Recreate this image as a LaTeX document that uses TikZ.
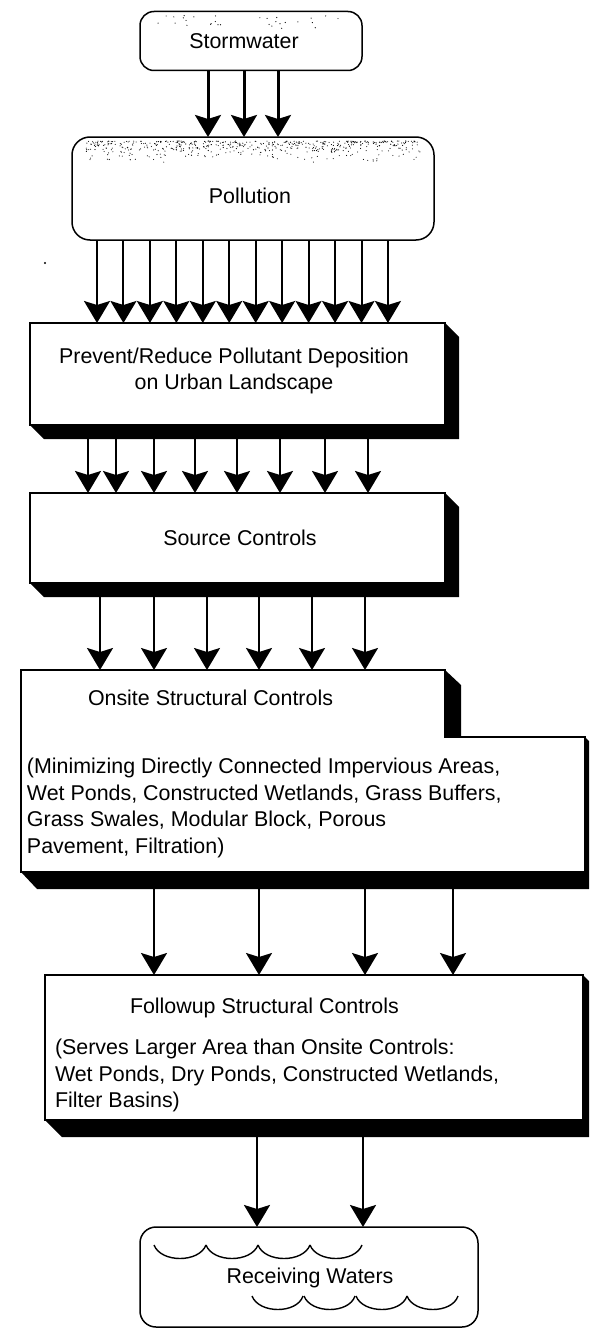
\documentclass[tikz,border=0pt]{standalone}
\usepackage{fontspec}
\setmainfont{Liberation Sans}
\usetikzlibrary{arrows.meta,calc}
\begin{document}
\begin{tikzpicture}[x=1pt,y=-1pt,
  every node/.style={inner sep=0pt,outer sep=0pt},
  txt/.style={font=\fontsize{21.4}{26.5}\selectfont},
  para/.style={txt,align=left,anchor=north west},
  rbox/.style={draw,line width=1.5pt,fill=white,rectangle},
  sbox/.style={draw,line width=1.5pt,fill=white,rectangle},
  arr/.style={line width=2pt,-{Stealth[length=22pt,width=26pt,inset=4pt]}},
  thickarr/.style={arr,line width=3pt},
  wave/.style={line width=1.4pt}
]
\useasboundingbox (0,0) rectangle (589,1330);
\clip (0,0) rectangle (589,1330);

\newcommand{\boxshadow}[2]{%
  \fill[black] (#1.north east) -- ++(#2,#2) -- ($(#1.south east)+(#2,#2)$)
    -- ($(#1.south west)+(#2,#2)$) -- (#1.south west) -- (#1.south east) -- cycle;}

% Stormwater
\node[rbox,rounded corners=14pt,minimum width=222pt,minimum height=59pt] (storm) at (251,41) {};
\node[txt] (stormtxt) at (244,41) {Stormwater};
\pgfmathsetseed{11}
\foreach \i in {1,...,30}{
  \pgfmathsetmacro{\xx}{150+200*rnd}
  \pgfmathsetmacro{\yy}{15+14*rnd}
  \fill (\xx,\yy) circle (0.6);
}

% Pollution
\node[rbox,rounded corners=18pt,minimum width=362pt,minimum height=103pt] (poll) at (253,188.5) {};
\node[txt] (polltxt) at (250,196) {Pollution};
\pgfmathsetseed{5}
\foreach \i in {1,...,520}{
  \pgfmathsetmacro{\xx}{86+334*rnd}
  \pgfmathsetmacro{\yy}{141+22*rnd*rnd}
  \fill (\xx,\yy) circle (0.55);
}
\fill (45,263) circle (1.2);

% Prevent
\node[sbox,minimum width=415pt,minimum height=102pt] (prev) at (237.5,374) {};
\boxshadow{prev}{14}
\node[txt,align=center] (prevtxt) at (234,371) {Prevent/Reduce Pollutant Deposition\\on Urban Landscape};

% Source
\node[sbox,minimum width=415pt,minimum height=90pt] (src) at (237.5,538) {};
\boxshadow{src}{14}
\node[txt] (srctxt) at (240,538) {Source Controls};

% Onsite (stepped box)
\fill[black] (21,670) -- (445,670) -- (461,685) -- (461,737) -- (585,737) -- (601,753)
  -- (601,889) -- (37,889) -- (21,872) -- cycle;
\filldraw[line width=1.5pt,fill=white] (21,670) -- (445,670) -- (445,737) -- (585,737)
  -- (585,872) -- (21,872) -- cycle;
\coordinate (onT) at (0,670);
\coordinate (onB) at (0,889);
\node[txt,anchor=west] (ontitle) at (88,698) {Onsite Structural Controls};
\node[para] (onpara) at (27,758) {(Minimizing Directly Connected Impervious Areas,\\
Wet Ponds, Constructed Wetlands, Grass Buffers,\\
Grass Swales, Modular Block, Porous\\
Pavement, Filtration)};

% Followup
\node[sbox,minimum width=538pt,minimum height=145pt] (fol) at (314,1047.5) {};
\boxshadow{fol}{17}
\node[txt,anchor=west] (foltitle) at (130,1008) {Followup Structural Controls};
\node[para] (folpara) at (55,1039) {(Serves Larger Area than Onsite Controls:\\
Wet Ponds, Dry Ponds, Constructed Wetlands,\\
Filter Basins)};

% Receiving waters
\node[rbox,rounded corners=16pt,minimum width=338pt,minimum height=100pt] (recv) at (309,1277) {};
\node[txt] (recvtxt) at (310,1278) {Receiving Waters};
\foreach \a in {154,206,258,310}{
  \draw[wave] (\a,1245) .. controls (\a+7,1263) and (\a+45,1263) .. (\a+52,1245);
}
\foreach \a in {252,304,356,407}{
  \draw[wave] (\a,1296) .. controls (\a+7,1314) and (\a+45,1314) .. (\a+51,1296);
}

% Arrows
\foreach \x in {208,244,278}{
  \draw[thickarr] (\x,0 |- storm.south) -- (\x,0 |- poll.north);
}
\foreach \i in {0,...,11}{
  \pgfmathsetmacro{\xx}{97+26.45*\i}
  \draw[arr] (\xx,0 |- poll.south) -- (\xx,0 |- prev.north);
}
\foreach \x in {88,116,154,195,237,280,325,368}{
  \draw[arr] (\x,437) -- (\x,0 |- src.north);
}
\foreach \x in {100,154,207,259,312,365}{
  \draw[arr] (\x,597) -- (\x,0 |- onT);
}
\foreach \x in {154,259,365,453}{
  \draw[arr] (\x,0 |- onB) -- (\x,0 |- fol.north);
}
\foreach \x in {257,363}{
  \draw[arr,line width=2.5pt] (\x,1137) -- (\x,0 |- recv.north);
}
\end{tikzpicture}
\end{document}
